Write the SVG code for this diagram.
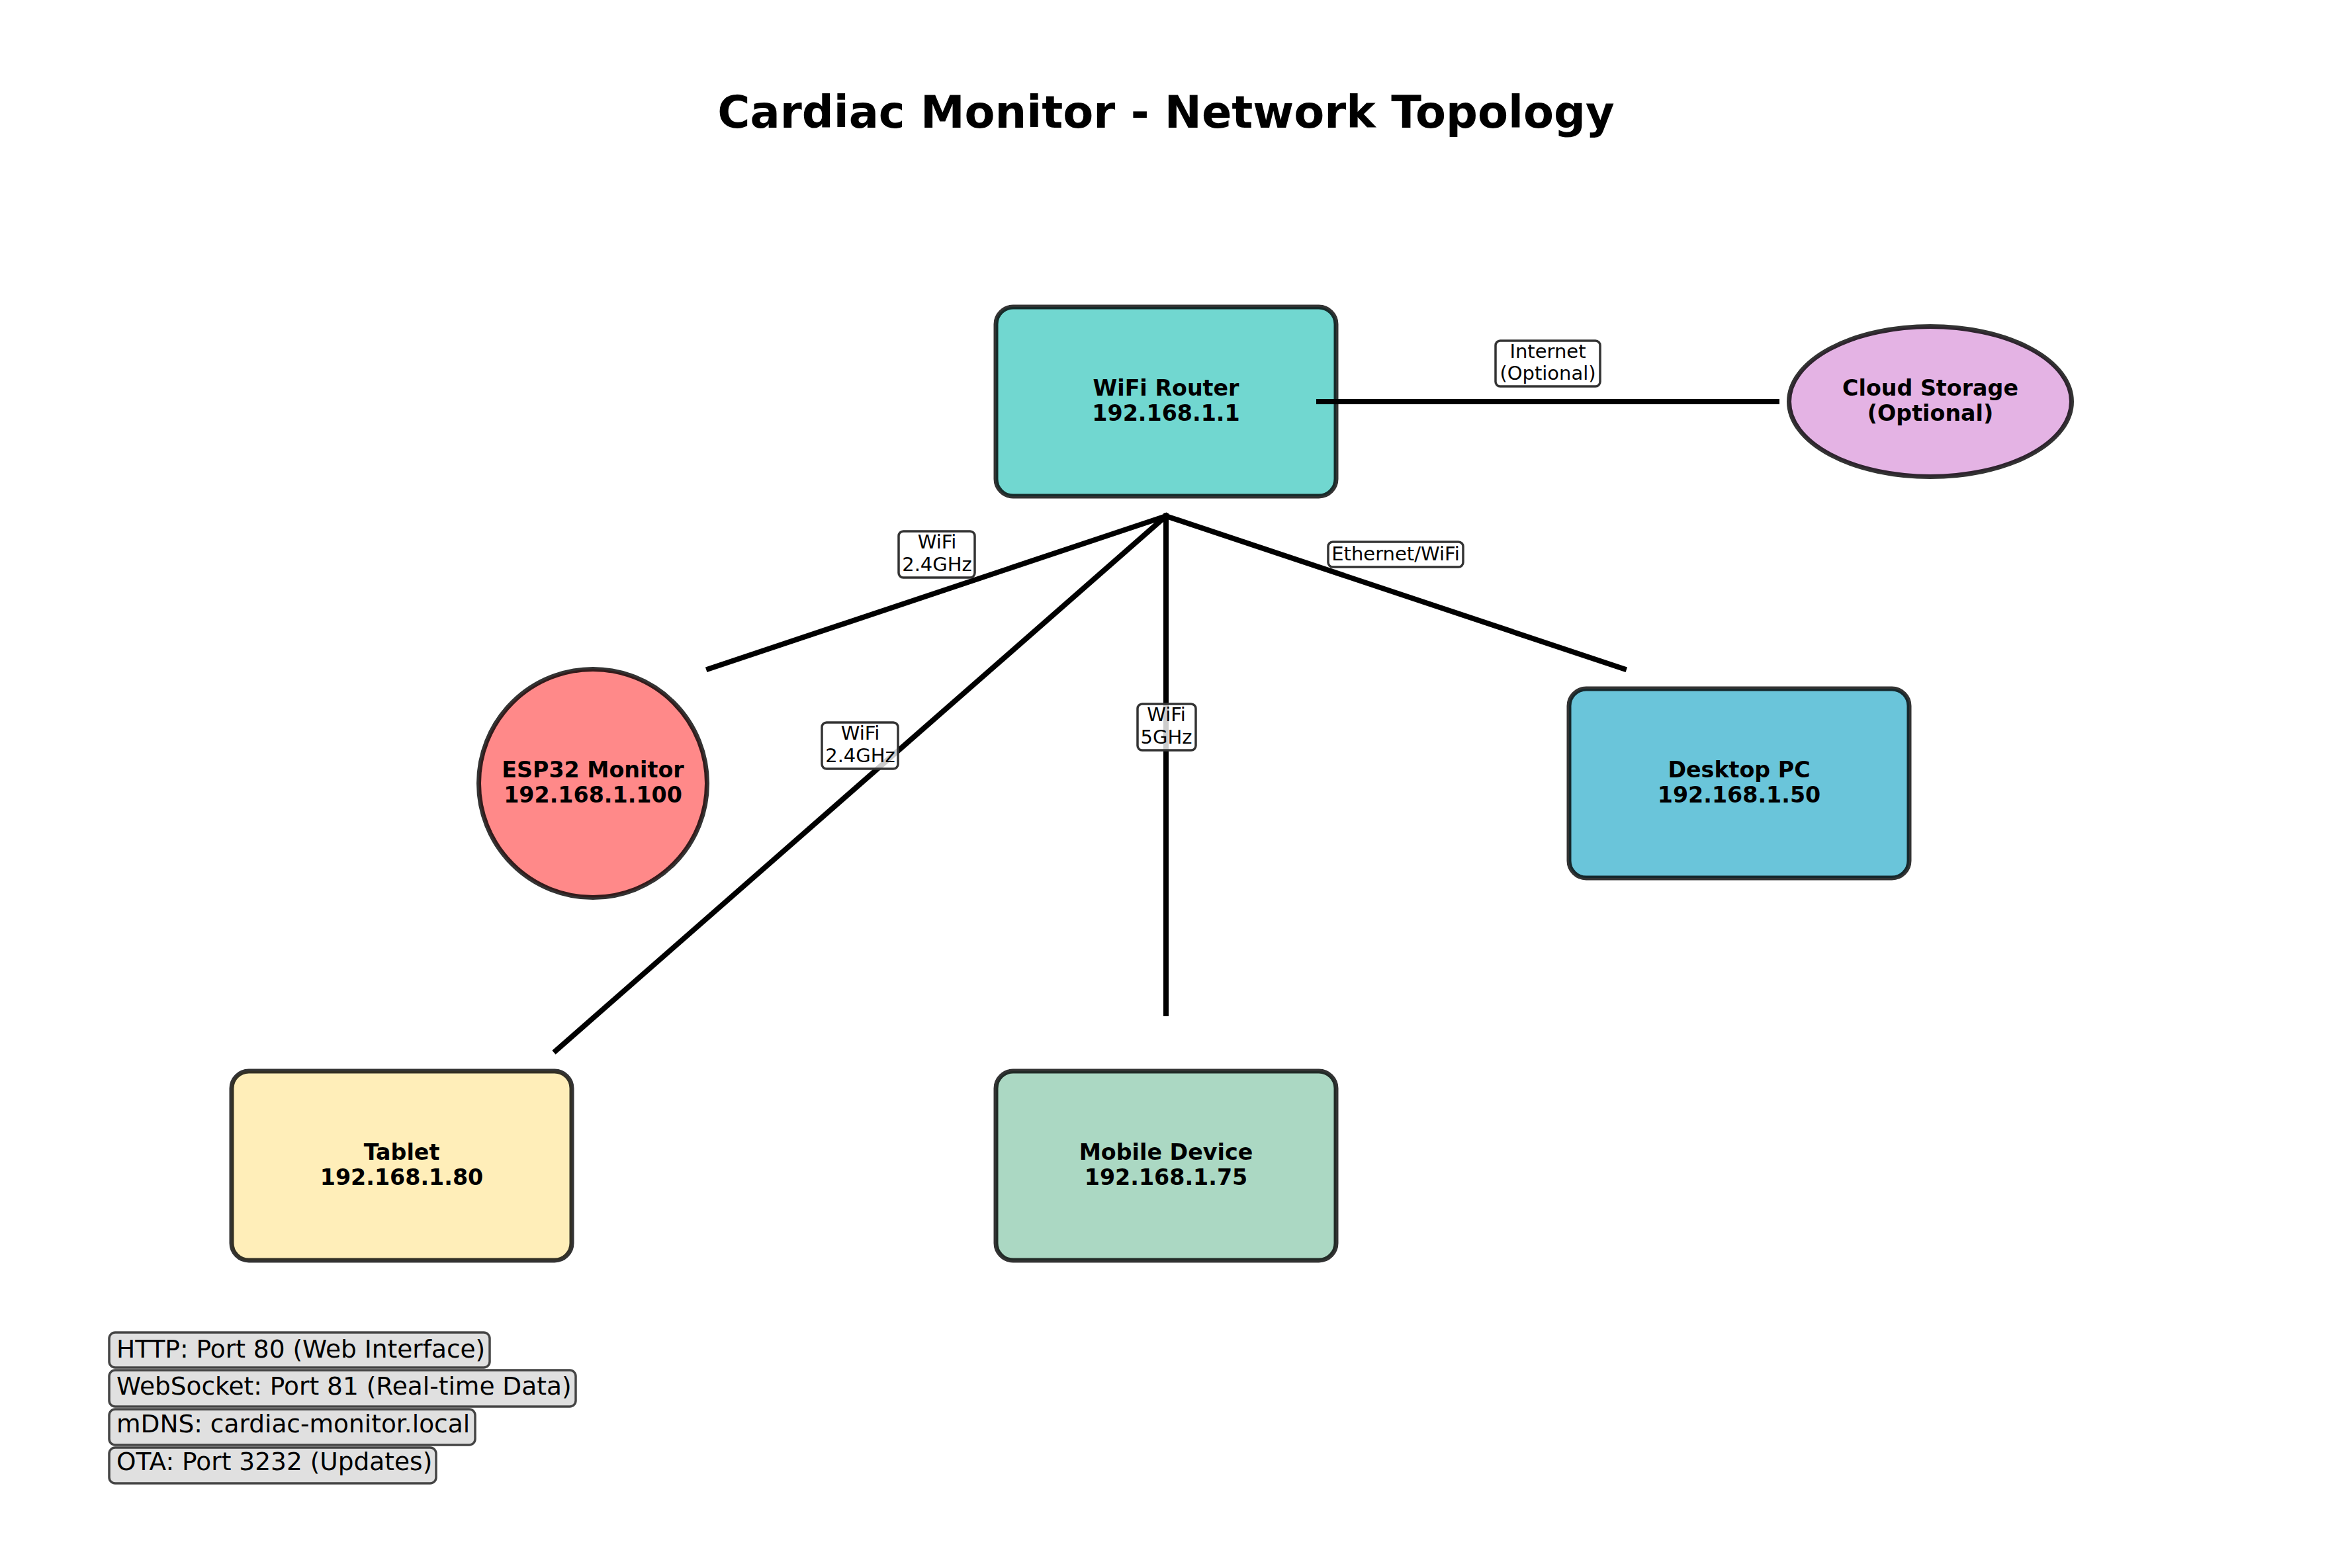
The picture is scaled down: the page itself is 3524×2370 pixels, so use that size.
<svg xmlns="http://www.w3.org/2000/svg" width="3524" height="2370" viewBox="0 0 3524 2370">
<style>
text{font-family:"DejaVu Sans","Liberation Sans",sans-serif;fill:#000}
.title{font-size:67px;font-weight:bold;text-anchor:middle}
.nl{font-size:33.3px;font-weight:bold;text-anchor:middle}
.node{stroke:#000;stroke-opacity:0.8;stroke-width:7}
.conn{stroke:#000;stroke-width:8;stroke-linecap:square;fill:none}
.lbox{fill:#fff;fill-opacity:0.8;stroke:#333;stroke-width:3.5}
.lt{font-size:29px;text-anchor:middle}
.gbox{fill:#e0e0e0;stroke:#444;stroke-width:3.5}
.gt{font-size:37.5px}
</style>
<rect width="3524" height="2370" fill="#fff"/>
<text class="title" x="1762" y="193">Cardiac Monitor - Network Topology</text>

<g id="router">
<rect class="node" x="1505" y="464" width="514" height="286" rx="26" fill="#71d7d0"/>
<text class="nl" x="1762" y="598">WiFi Router</text>
<text class="nl" x="1762" y="636">192.168.1.1</text>
</g>
<g id="cloud">
<ellipse class="node" cx="2917" cy="607" rx="213.5" ry="113.5" fill="#e4b3e4"/>
<text class="nl" x="2917" y="598">Cloud Storage</text>
<text class="nl" x="2917" y="636">(Optional)</text>
</g>
<g id="esp32">
<circle class="node" cx="896" cy="1184" r="172.5" fill="#ff8989"/>
<text class="nl" x="896" y="1175">ESP32 Monitor</text>
<text class="nl" x="896" y="1213">192.168.1.100</text>
</g>
<g id="desktop">
<rect class="node" x="2371" y="1041" width="514" height="286" rx="26" fill="#6ac5da"/>
<text class="nl" x="2628" y="1175">Desktop PC</text>
<text class="nl" x="2628" y="1213">192.168.1.50</text>
</g>
<g id="tablet">
<rect class="node" x="350" y="1619" width="514" height="286" rx="26" fill="#ffeeb9"/>
<text class="nl" x="607" y="1753">Tablet</text>
<text class="nl" x="607" y="1791">192.168.1.80</text>
</g>
<g id="mobile">
<rect class="node" x="1505" y="1619" width="514" height="286" rx="26" fill="#abd8c3"/>
<text class="nl" x="1762" y="1753">Mobile Device</text>
<text class="nl" x="1762" y="1791">192.168.1.75</text>
</g>

<g id="connectors">
<line class="conn" x1="1993" y1="607" x2="2685" y2="607"/>
<line class="conn" x1="1762" y1="780" x2="1071" y2="1011"/>
<line class="conn" x1="1762" y1="780" x2="840" y2="1588"/>
<line class="conn" x1="1762" y1="780" x2="1762" y2="1532"/>
<line class="conn" x1="1762" y1="780" x2="2454" y2="1011"/>
<g id="labels">
<rect class="lbox" x="2260" y="515" width="158" height="69" rx="7"/>
<text class="lt" x="2339" y="541">Internet</text>
<text class="lt" x="2339" y="574">(Optional)</text>
<rect class="lbox" x="1358" y="803" width="115" height="70" rx="7"/>
<text class="lt" x="1416" y="829">WiFi</text>
<text class="lt" x="1416" y="863">2.4GHz</text>
<rect class="lbox" x="1242" y="1092" width="115" height="70" rx="7"/>
<text class="lt" x="1300" y="1118">WiFi</text>
<text class="lt" x="1300" y="1152">2.4GHz</text>
<rect class="lbox" x="1719" y="1064" width="88" height="70" rx="7"/>
<text class="lt" x="1762.5" y="1090">WiFi</text>
<text class="lt" x="1762.5" y="1124">5GHz</text>
<rect class="lbox" x="2007" y="819" width="204" height="38" rx="7"/>
<text class="lt" x="2109" y="847">Ethernet/WiFi</text>
</g>
</g>

<g id="legend">
<rect class="gbox" x="165" y="2014" width="575" height="53" rx="9"/>
<text class="gt" x="176" y="2052">HTTP: Port 80 (Web Interface)</text>
<rect class="gbox" x="165" y="2071" width="705" height="55" rx="9"/>
<text class="gt" x="176" y="2108">WebSocket: Port 81 (Real-time Data)</text>
<rect class="gbox" x="165" y="2130" width="553" height="54" rx="9"/>
<text class="gt" x="176" y="2165">mDNS: cardiac-monitor.local</text>
<rect class="gbox" x="165" y="2188" width="494" height="54" rx="9"/>
<text class="gt" x="176" y="2222">OTA: Port 3232 (Updates)</text>
</g>
</svg>
